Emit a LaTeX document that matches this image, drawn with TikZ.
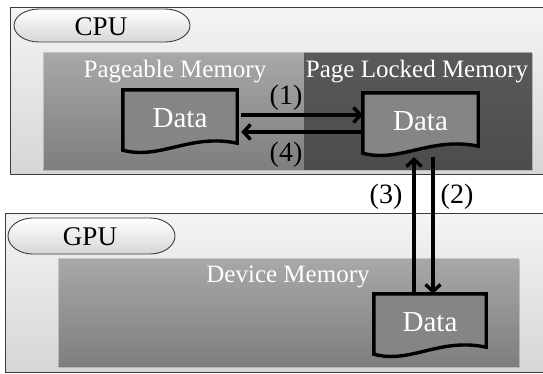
\documentclass[tikz,border=0pt]{standalone}
\usepackage{fontspec}
\setmainfont{Liberation Serif}
\usetikzlibrary{arrows.meta,shadows}

\definecolor{frameline}{HTML}{3C3C3C}
\definecolor{bgtop}{HTML}{F4F4F4}
\definecolor{bgbot}{HTML}{D6D6D6}
\definecolor{memtop}{HTML}{A8A8A8}
\definecolor{membot}{HTML}{7E7E7E}
\definecolor{locktop}{HTML}{5A5A5A}
\definecolor{lockbot}{HTML}{4C4C4C}
\definecolor{datafill}{HTML}{858585}

\tikzset{
  host/.style={draw=frameline, line width=1pt, top color=bgtop, bottom color=bgbot,
    anchor=north west, inner sep=0pt},
  pill/.style={draw=frameline, line width=0.9pt, top color=white, bottom color=black!16},
  pilltext/.style={font=\fontsize{27}{30}\selectfont, text=black, inner sep=0pt},
  membox/.style={anchor=north west, inner sep=0pt, top color=memtop, bottom color=membot,
    drop shadow={shadow xshift=1.2pt, shadow yshift=-1.5pt, opacity=0.35}},
  lockbox/.style={anchor=north west, inner sep=0pt, top color=locktop, bottom color=lockbot,
    drop shadow={shadow xshift=1.2pt, shadow yshift=-1.5pt, opacity=0.35}},
  bevel/.style={draw=white!85!black, line width=1pt, opacity=0.6},
  memtext/.style={font=\fontsize{25}{28}\selectfont, text=white, inner sep=0pt},
  databox/.style={minimum height=56pt, inner sep=0pt, font=\fontsize{29}{32}\selectfont, text=white},
  docline/.style={draw=black, fill=datafill, line width=3.4pt, line join=miter},
  flow/.style={line width=3.4pt, -{Straight Barb[length=7pt,width=15pt,line width=3.4pt]}},
  steplabel/.style={font=\fontsize{28}{30}\selectfont, text=black, inner sep=0pt},
}

% document outline (wavy bottom) around a named node
\newcommand\docoutline[1]{%
  \path[docline] ([yshift=-4pt]#1.south west) -- (#1.north west) -- (#1.north east)
    -- ([yshift=3pt]#1.south east)
    .. controls ([xshift=-47pt,yshift=13pt]#1.south east) and ([xshift=37pt,yshift=-14pt]#1.south west)
    .. ([yshift=-4pt]#1.south west) -- cycle;}

\begin{document}
\begin{tikzpicture}[x=1pt,y=-1pt]
  \useasboundingbox (0,0) rectangle (543,373);

  % ---------------- host side ----------------
  \node[host, minimum width=540pt, minimum height=167pt] (cpu) at (10,7) {};
  \shade[pill] (39,9) -- (165,9) arc[start angle=90,end angle=-90,x radius=25pt,y radius=16.5pt]
    -- (39,42) arc[start angle=270,end angle=90,x radius=25pt,y radius=16.5pt] -- cycle;
  \node[pilltext] (cpulbl) at (101,26.5) {CPU};

  \node[membox, minimum width=261pt, minimum height=117pt] (pageable) at (43,52) {};
  \node[lockbox, minimum width=228pt, minimum height=117pt] (locked) at (304,52) {};
  \draw[bevel] (pageable.south west) -- (pageable.north west) -- (locked.north east);
  \node[memtext] (pgtxt) at (175,72) {Pageable Memory};
  \node[memtext] (lktxt) at (417,72) {Page Locked Memory};

  \node[databox, minimum width=114pt] (d1) at (180,118) {};
  \docoutline{d1}
  \node[databox] at (d1.center) {Data};

  \node[databox, minimum width=115pt] (d2) at (420.5,121) {};
  \docoutline{d2}
  \node[databox] at (d2.center) {Data};

  % ---------------- device side ----------------
  \node[host, minimum width=545pt, minimum height=159pt] (gpu) at (5,213) {};
  \shade[pill] (33,218) -- (150,218) arc[start angle=90,end angle=-90,x radius=25pt,y radius=18pt]
    -- (33,254) arc[start angle=270,end angle=90,x radius=25pt,y radius=18pt] -- cycle;
  \node[pilltext] (gpulbl) at (90,237) {GPU};

  \node[membox, minimum width=461pt, minimum height=108pt] (device) at (58,258) {};
  \draw[bevel] (device.south west) -- (device.north west) -- (device.north east);
  \node[memtext] (dvtxt) at (288,277) {Device Memory};

  \node[databox, minimum width=112pt] (d3) at (430,322) {};
  \docoutline{d3}
  \node[databox] at (d3.center) {Data};

  % ---------------- transfers ----------------
  \draw[flow] ([xshift=4pt,yshift=3pt]d1.east) -- ([yshift=6pt]d2.west);
  \draw[flow] ([yshift=-11pt]d2.west) -- ([xshift=4pt,yshift=-14pt]d1.east);
  \draw[flow] ([xshift=12.5pt,yshift=-8pt]d2.south) -- ([xshift=3pt]d3.north);
  \draw[flow] ([xshift=-16pt]d3.north) -- ([xshift=-6.5pt,yshift=-8pt]d2.south);

  \node[steplabel] (l1) at (286,98) {(1)};
  \node[steplabel] (l4) at (286,155) {(4)};
  \node[steplabel] (l3) at (386,197) {(3)};
  \node[steplabel] (l2) at (457,197) {(2)};
\end{tikzpicture}
\end{document}
